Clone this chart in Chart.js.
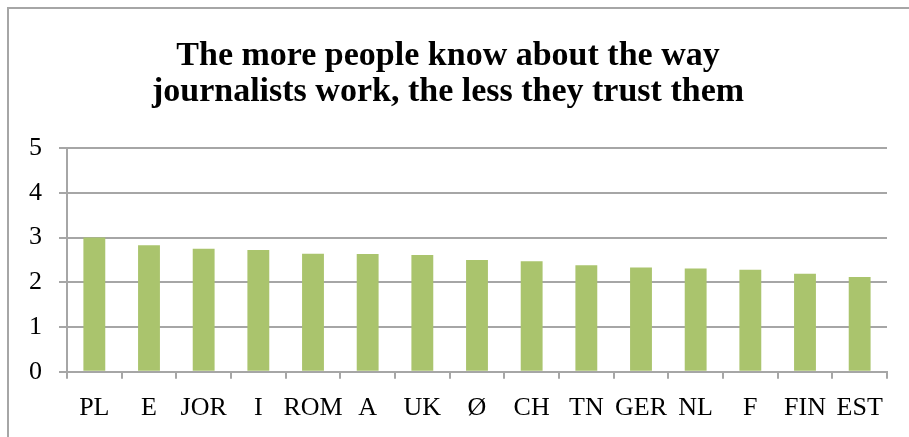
<!DOCTYPE html>
<html>
<head>
<meta charset="utf-8">
<script src="https://cdn.jsdelivr.net/npm/chart.js@4"></script>
<style>
  html, body { margin: 0; padding: 0; background: #fff; overflow: hidden; }
  body { width: 909px; height: 437px; position: relative; }
  #frame {
    position: absolute; left: 7px; top: 7px; width: 910px; height: 440px;
    border-left: 2px solid #a6a6a6; border-top: 2px solid #a6a6a6;
    box-sizing: border-box;
  }
  #chart { position: absolute; left: 0; top: 0; }
</style>
</head>
<body>
<div id="frame"><canvas id="chart" width="908" height="438"></canvas></div>
<script>
const countries = ['PL', 'E', 'JOR', 'I', 'ROM', 'A', 'UK', 'Ø', 'CH', 'TN', 'GER', 'NL', 'F', 'FIN', 'EST'];
const trustScores = [3.0, 2.83, 2.75, 2.72, 2.64, 2.63, 2.61, 2.50, 2.47, 2.38, 2.33, 2.31, 2.28, 2.19, 2.12];
const yTicks = [0, 1, 2, 3, 4, 5];
const titleLines = ['The more people know about the way', 'journalists work, the less they trust them'];

const serif = "'Liberation Serif', 'DejaVu Serif', serif";

function drawBarChart(canvas, itemLabels, barValues) {
    const ctx = document.getElementById(canvas);
    const data = {
        labels: itemLabels,
        datasets: [{
            data: barValues,
            backgroundColor: '#aac46d',
            borderWidth: 0,
            barPercentage: 0.8,
            categoryPercentage: 0.5
        }]
    };

    const config = {
        type: 'bar',
        data: data,
        options: {
            responsive: false,
            animation: false,
            layout: {padding: {left: 0, right: 30, top: 0, bottom: 9}},
            scales: {
                x: {
                    grid: {drawOnChartArea: false, drawTicks: true, tickLength: 7, color: '#a6a6a6', lineWidth: 2},
                    border: {color: '#a6a6a6', width: 2},
                    ticks: {color: '#000', padding: 14, font: {family: serif, size: 26}, maxRotation: 0, autoSkip: false}
                },
                y: {
                    min: yTicks[0],
                    max: yTicks[yTicks.length - 1],
                    afterBuildTicks: (scale) => { scale.ticks = yTicks.map(v => ({value: v})); },
                    afterFit: (scale) => { scale.width = 58; },
                    grid: {color: '#a6a6a6', lineWidth: 2, tickLength: 8},
                    border: {color: '#a6a6a6', width: 2},
                    ticks: {color: '#000', padding: 17, font: {family: serif, size: 26}}
                }
            },
            plugins: {
                legend: {display: false},
                tooltip: {enabled: false},
                title: {
                    display: true,
                    text: titleLines,
                    color: '#000',
                    font: {family: serif, size: 34, weight: 'bold', lineHeight: '36px'},
                    padding: {top: 29, bottom: 38}
                }
            }
        }
    };

    new Chart(ctx, config);
}

drawBarChart('chart', countries, trustScores);
</script>
</body>
</html>
